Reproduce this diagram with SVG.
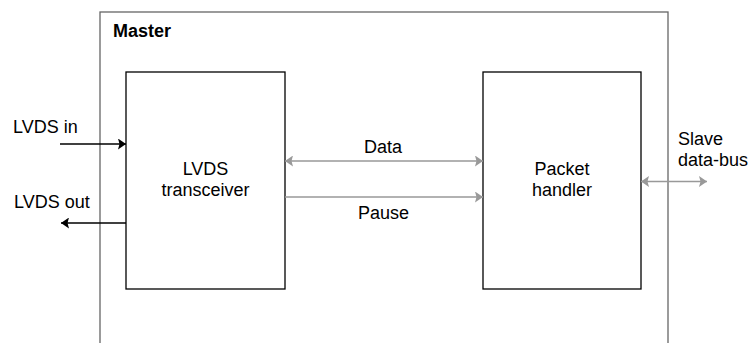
<svg xmlns="http://www.w3.org/2000/svg" width="751" height="343" viewBox="0 0 751 343">
  <style>
    text { font-family: "Liberation Sans", Arial, sans-serif; font-size: 18px; fill: #000; }
    .mid { text-anchor: middle; }
    .frame { fill: #fff; stroke: #666; stroke-width: 1.3; }
    .box { fill: #fff; stroke: #000; stroke-width: 1.3; }
    .sig { stroke: #000; stroke-width: 1.6; fill: none; }
    .bus { stroke: #999; stroke-width: 1.6; fill: none; }
  </style>
  <defs>
    <marker id="ahBlack" viewBox="0 0 8 11" refX="8" refY="5.5" markerUnits="userSpaceOnUse" markerWidth="8" markerHeight="11" orient="auto">
      <path d="M0,0 L8,5.5 L0,11 L1.5,5.5 Z" fill="#000"/>
    </marker>
    <marker id="ahGrey" viewBox="0 0 8 11" refX="8" refY="5.5" markerUnits="userSpaceOnUse" markerWidth="8" markerHeight="11" orient="auto-start-reverse">
      <path d="M0,0 L8,5.5 L0,11 L1.5,5.5 Z" fill="#999"/>
    </marker>
  </defs>

  <g id="master">
    <rect class="frame" x="100" y="12" width="568" height="340"/>
    <text x="113" y="37" font-weight="bold">Master</text>
  </g>

  <g id="lvds-transceiver">
    <rect class="box" x="126" y="72" width="159" height="217"/>
    <text class="mid" x="205.5" y="175">LVDS</text>
    <text class="mid" x="205.5" y="196">transceiver</text>
  </g>

  <g id="packet-handler">
    <rect class="box" x="483" y="72" width="158" height="217"/>
    <text class="mid" x="562" y="175">Packet</text>
    <text class="mid" x="562" y="196">handler</text>
  </g>

  <g id="connectors">
    <line class="sig" x1="60" y1="144" x2="126" y2="144" marker-end="url(#ahBlack)"/>
    <line class="sig" x1="126" y1="223" x2="61" y2="223" marker-end="url(#ahBlack)"/>
    <line class="bus" x1="285" y1="161" x2="483" y2="161" marker-start="url(#ahGrey)" marker-end="url(#ahGrey)"/>
    <line class="bus" x1="285" y1="197" x2="483" y2="197" marker-end="url(#ahGrey)"/>
    <line class="bus" x1="641" y1="181.5" x2="707" y2="181.5" marker-start="url(#ahGrey)" marker-end="url(#ahGrey)"/>
  </g>

  <g id="labels">
    <text x="13" y="133">LVDS in</text>
    <text x="14" y="208">LVDS out</text>
    <text class="mid" x="383" y="153">Data</text>
    <text class="mid" x="383.5" y="219">Pause</text>
    <text x="678" y="145">Slave</text>
    <text x="678" y="166">data-bus</text>
  </g>
</svg>
